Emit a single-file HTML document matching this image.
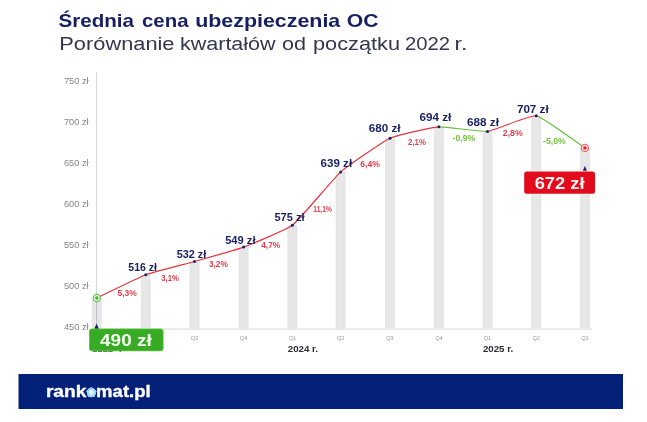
<!DOCTYPE html>
<html lang="pl"><head><meta charset="utf-8"><title>Średnia cena ubezpieczenia OC</title>
<style>
html,body{margin:0;padding:0;background:#fff;}
body{width:647px;height:422px;overflow:hidden;position:relative;font-family:"Liberation Sans",sans-serif;}
svg{position:absolute;left:0;top:0;display:block;filter:blur(0.45px);}
text{font-family:"Liberation Sans",sans-serif;}
.b{font-weight:bold;}
</style></head><body>
<svg width="647" height="422" viewBox="0 0 647 422">
<defs><linearGradient id="bg" x1="0" y1="0" x2="1" y2="0"><stop offset="0" stop-color="#e5e5e5"/><stop offset="0.5" stop-color="#e8e8e8"/><stop offset="1" stop-color="#e5e5e5"/></linearGradient></defs>
<rect width="647" height="422" fill="#ffffff"/>
<text y="26.9" class="b" font-size="17.8" fill="#171f63"><tspan x="58.51" textLength="75.53" lengthAdjust="spacingAndGlyphs">Średnia</tspan> <tspan x="142.00" textLength="46.47" lengthAdjust="spacingAndGlyphs">cena</tspan> <tspan x="195.15" textLength="145.13" lengthAdjust="spacingAndGlyphs">ubezpieczenia</tspan> <tspan x="346.74" textLength="31.66" lengthAdjust="spacingAndGlyphs">OC</tspan></text>
<text y="50.1" font-size="18.8" fill="#33364f"><tspan x="59.33" textLength="115.17" lengthAdjust="spacingAndGlyphs">Porównanie</tspan> <tspan x="179.93" textLength="95.72" lengthAdjust="spacingAndGlyphs">kwartałów</tspan> <tspan x="282.06" textLength="24.02" lengthAdjust="spacingAndGlyphs">od</tspan> <tspan x="313.04" textLength="86.96" lengthAdjust="spacingAndGlyphs">początku</tspan> <tspan x="404.97" textLength="45.0" lengthAdjust="spacingAndGlyphs">2022</tspan> <tspan x="454.62" textLength="7.55" lengthAdjust="spacingAndGlyphs">r</tspan><tspan x="461.04" textLength="6.39" lengthAdjust="spacingAndGlyphs">.</tspan></text>
<line x1="96.6" y1="72" x2="96.6" y2="328" stroke="#d6d6d6" stroke-width="1"/>
<line x1="92" y1="329.1" x2="592" y2="329.1" stroke="#e0e0e0" stroke-width="1.4"/>
<text x="63.9" y="83.5" font-size="8.2" fill="#858585" textLength="24.8" lengthAdjust="spacingAndGlyphs">750 zł</text>
<text x="63.9" y="124.6" font-size="8.2" fill="#858585" textLength="24.8" lengthAdjust="spacingAndGlyphs">700 zł</text>
<text x="63.9" y="165.7" font-size="8.2" fill="#858585" textLength="24.8" lengthAdjust="spacingAndGlyphs">650 zł</text>
<text x="63.9" y="206.8" font-size="8.2" fill="#858585" textLength="24.8" lengthAdjust="spacingAndGlyphs">600 zł</text>
<text x="63.9" y="247.9" font-size="8.2" fill="#858585" textLength="24.8" lengthAdjust="spacingAndGlyphs">550 zł</text>
<text x="63.9" y="289.0" font-size="8.2" fill="#858585" textLength="24.8" lengthAdjust="spacingAndGlyphs">500 zł</text>
<text x="63.9" y="330.1" font-size="8.2" fill="#858585" textLength="24.8" lengthAdjust="spacingAndGlyphs">450 zł</text>
<rect x="91.8" y="298.0" width="10" height="30.6" fill="url(#bg)"/>
<rect x="140.8" y="274.8" width="10" height="53.8" fill="url(#bg)"/>
<rect x="189.5" y="261.5" width="10" height="67.1" fill="url(#bg)"/>
<rect x="238.6" y="247.1" width="10" height="81.5" fill="url(#bg)"/>
<rect x="287.4" y="225.3" width="10" height="103.3" fill="url(#bg)"/>
<rect x="335.7" y="171.9" width="10" height="156.7" fill="url(#bg)"/>
<rect x="385.0" y="138.2" width="10" height="190.4" fill="url(#bg)"/>
<rect x="433.9" y="126.8" width="10" height="201.8" fill="url(#bg)"/>
<rect x="482.5" y="131.4" width="10" height="197.2" fill="url(#bg)"/>
<rect x="531.2" y="115.8" width="10" height="212.8" fill="url(#bg)"/>
<rect x="579.9" y="147.9" width="10" height="180.7" fill="url(#bg)"/>
<text x="194.5" y="339.7" font-size="5.6" fill="#9a9a9a" text-anchor="middle">Q3</text>
<text x="243.6" y="339.7" font-size="5.6" fill="#9a9a9a" text-anchor="middle">Q4</text>
<text x="292.4" y="339.7" font-size="5.6" fill="#9a9a9a" text-anchor="middle">Q1</text>
<text x="340.7" y="339.7" font-size="5.6" fill="#9a9a9a" text-anchor="middle">Q2</text>
<text x="390.0" y="339.7" font-size="5.6" fill="#9a9a9a" text-anchor="middle">Q3</text>
<text x="438.9" y="339.7" font-size="5.6" fill="#9a9a9a" text-anchor="middle">Q4</text>
<text x="487.5" y="339.7" font-size="5.6" fill="#9a9a9a" text-anchor="middle">Q1</text>
<text x="536.2" y="339.7" font-size="5.6" fill="#9a9a9a" text-anchor="middle">Q2</text>
<text x="584.9" y="339.7" font-size="5.6" fill="#9a9a9a" text-anchor="middle">Q3</text>
<text x="287.8" y="352.1" class="b" font-size="8.8" fill="#2a2a35" textLength="30.2" lengthAdjust="spacingAndGlyphs">2024 r.</text>
<text x="482.9" y="352.1" class="b" font-size="8.8" fill="#2a2a35" textLength="30.2" lengthAdjust="spacingAndGlyphs">2025 r.</text>
<path d="M96.8 298.0 C103.2 295.0 139.2 277.3 145.8 274.8" fill="none" stroke="#e5343f" stroke-width="1.2" stroke-linecap="round"/>
<path d="M145.8 274.8 C151.9 272.5 188.2 263.3 194.5 261.5" fill="none" stroke="#e5343f" stroke-width="1.2" stroke-linecap="round"/>
<path d="M194.5 261.5 C200.9 259.7 237.4 249.4 243.6 247.1" fill="none" stroke="#e5343f" stroke-width="1.2" stroke-linecap="round"/>
<path d="M243.6 247.1 C250.1 244.7 287.0 229.5 292.4 225.3" fill="none" stroke="#e5343f" stroke-width="1.2" stroke-linecap="round"/>
<path d="M292.4 225.3 C299.6 219.7 333.8 178.1 340.7 171.9" fill="none" stroke="#e5343f" stroke-width="1.2" stroke-linecap="round"/>
<path d="M340.7 171.9 C346.5 166.8 383.1 141.4 390.0 138.2" fill="none" stroke="#e5343f" stroke-width="1.2" stroke-linecap="round"/>
<path d="M390.0 138.2 C395.8 135.5 432.5 127.2 438.9 126.8" fill="none" stroke="#e5343f" stroke-width="1.2" stroke-linecap="round"/>
<path d="M438.9 126.8 C445.1 126.4 481.3 132.1 487.5 131.4" fill="none" stroke="#6fbf3e" stroke-width="1.2" stroke-linecap="round"/>
<path d="M487.5 131.4 C494.0 130.7 530.3 114.8 536.2 115.8" fill="none" stroke="#e5343f" stroke-width="1.2" stroke-linecap="round"/>
<path d="M536.2 115.8 C542.9 116.9 578.6 143.7 584.9 147.9" fill="none" stroke="#6fbf3e" stroke-width="1.2" stroke-linecap="round"/>
<circle cx="145.8" cy="274.8" r="1.5" fill="#171f63"/>
<circle cx="194.5" cy="261.5" r="1.5" fill="#171f63"/>
<circle cx="243.6" cy="247.1" r="1.5" fill="#171f63"/>
<circle cx="292.4" cy="225.3" r="1.5" fill="#171f63"/>
<circle cx="340.7" cy="171.9" r="1.5" fill="#171f63"/>
<circle cx="390.0" cy="138.2" r="1.5" fill="#171f63"/>
<circle cx="438.9" cy="126.8" r="1.5" fill="#171f63"/>
<circle cx="487.5" cy="131.4" r="1.5" fill="#171f63"/>
<circle cx="536.2" cy="115.8" r="1.5" fill="#171f63"/>
<line x1="96.6" y1="302.0" x2="96.6" y2="324" stroke="#b0b0b8" stroke-width="0.8"/>
<circle cx="96.8" cy="298.0" r="3.7" fill="#e2f6dc" stroke="#56be40" stroke-width="1"/><circle cx="96.8" cy="298.0" r="1.7" fill="#43b42c"/>
<circle cx="584.9" cy="147.9" r="3.7" fill="#fbd9dc" stroke="#ea5562" stroke-width="1"/><circle cx="584.9" cy="147.9" r="1.7" fill="#e0202c"/>
<text x="117.5" y="296.2" class="b" font-size="8.6" fill="#e43f4c" textLength="19.3" lengthAdjust="spacingAndGlyphs">5,3%</text>
<text x="161.2" y="280.5" class="b" font-size="8.6" fill="#e43f4c" textLength="17.6" lengthAdjust="spacingAndGlyphs">3,1%</text>
<text x="208.9" y="266.6" class="b" font-size="8.6" fill="#e43f4c" textLength="19" lengthAdjust="spacingAndGlyphs">3,2%</text>
<text x="261.2" y="248.0" class="b" font-size="8.6" fill="#e43f4c" textLength="19" lengthAdjust="spacingAndGlyphs">4,7%</text>
<text x="313.3" y="212.2" class="b" font-size="8.6" fill="#e43f4c" textLength="18.6" lengthAdjust="spacingAndGlyphs">11,1%</text>
<text x="360.3" y="167.4" class="b" font-size="8.6" fill="#e43f4c" textLength="19.7" lengthAdjust="spacingAndGlyphs">6,4%</text>
<text x="408.1" y="144.9" class="b" font-size="8.6" fill="#e43f4c" textLength="17.8" lengthAdjust="spacingAndGlyphs">2,1%</text>
<text x="452.6" y="141.3" class="b" font-size="8.6" fill="#78c043" textLength="22.5" lengthAdjust="spacingAndGlyphs">-0,9%</text>
<text x="502.8" y="135.6" class="b" font-size="8.6" fill="#e43f4c" textLength="19.9" lengthAdjust="spacingAndGlyphs">2,8%</text>
<text x="543.0" y="144.3" class="b" font-size="8.6" fill="#78c043" textLength="22.7" lengthAdjust="spacingAndGlyphs">-5,0%</text>
<text x="128.3" y="271.1" class="b" font-size="11.0" fill="#171f63" textLength="28.6" lengthAdjust="spacingAndGlyphs">516 zł</text>
<text x="176.7" y="258.0" class="b" font-size="11.0" fill="#171f63" textLength="29.6" lengthAdjust="spacingAndGlyphs">532 zł</text>
<text x="225.2" y="243.5" class="b" font-size="11.0" fill="#171f63" textLength="30.3" lengthAdjust="spacingAndGlyphs">549 zł</text>
<text x="274.5" y="220.5" class="b" font-size="11.0" fill="#171f63" textLength="30" lengthAdjust="spacingAndGlyphs">575 zł</text>
<text x="320.6" y="166.8" class="b" font-size="11.0" fill="#171f63" textLength="31.5" lengthAdjust="spacingAndGlyphs">639 zł</text>
<text x="368.7" y="132.4" class="b" font-size="11.0" fill="#171f63" textLength="31.8" lengthAdjust="spacingAndGlyphs">680 zł</text>
<text x="419.5" y="121.2" class="b" font-size="11.0" fill="#171f63" textLength="31.8" lengthAdjust="spacingAndGlyphs">694 zł</text>
<text x="467.1" y="125.9" class="b" font-size="11.0" fill="#171f63" textLength="31.8" lengthAdjust="spacingAndGlyphs">688 zł</text>
<text x="516.9" y="112.6" class="b" font-size="11.0" fill="#171f63" textLength="31.8" lengthAdjust="spacingAndGlyphs">707 zł</text>
<rect x="92.8" y="350.9" width="4.2" height="1.1" fill="#2a2a35" opacity="0.75"/>
<rect x="98.0" y="350.9" width="4.2" height="1.1" fill="#2a2a35" opacity="0.75"/>
<rect x="103.2" y="350.9" width="4.2" height="1.1" fill="#2a2a35" opacity="0.75"/>
<rect x="108.4" y="350.9" width="4.2" height="1.1" fill="#2a2a35" opacity="0.75"/>
<rect x="119.6" y="350.9" width="1.4" height="1.1" fill="#2a2a35" opacity="0.75"/>
<path d="M94.2 329 L96.6 323.4 L99 329 Z" fill="#171f63"/>
<rect x="89" y="328.6" width="74.6" height="22.6" rx="3" fill="#66cc48"/>
<rect x="89.8" y="329.3" width="73" height="21.2" rx="2.5" fill="#38ab24"/>
<text x="100.0" y="345.5" class="b" font-size="16.4" fill="#f4fff0" textLength="51.8" lengthAdjust="spacingAndGlyphs">490 zł</text>
<path d="M582.5 172 L584.9 165.8 L587.3 172 Z" fill="#171f63"/>
<rect x="523.4" y="170.8" width="72.4" height="23.7" rx="3" fill="#ffffff"/>
<rect x="524.2" y="171.6" width="70.8" height="22.1" rx="2.5" fill="#e20a1b"/>
<text x="534.7" y="188.6" class="b" font-size="16.2" fill="#fff4f2" textLength="49.8" lengthAdjust="spacingAndGlyphs">672 zł</text>
<rect x="18.5" y="374" width="604.5" height="35" fill="#04217a"/>
<text y="397" class="b" font-size="16.6" fill="#fff" stroke="#fff" stroke-width="0.35"><tspan x="45.9" textLength="40.6" lengthAdjust="spacingAndGlyphs">rank</tspan><tspan x="86.6" textLength="9.6" lengthAdjust="spacingAndGlyphs" fill="#9fd4f6" stroke="#9fd4f6">o</tspan><tspan x="96.1" textLength="54.6" lengthAdjust="spacingAndGlyphs">mat.pl</tspan></text>
<polygon points="91.40,387.50 93.69,389.34 96.16,390.95 95.11,393.71 94.34,396.55 91.40,396.40 88.46,396.55 87.69,393.71 86.64,390.95 89.11,389.34" fill="#9fd4f6" stroke="#9fd4f6" stroke-width="1" stroke-linejoin="round"/><circle cx="91.4" cy="392.5" r="2.4" fill="#e8f6ff"/>
</svg>
</body></html>
